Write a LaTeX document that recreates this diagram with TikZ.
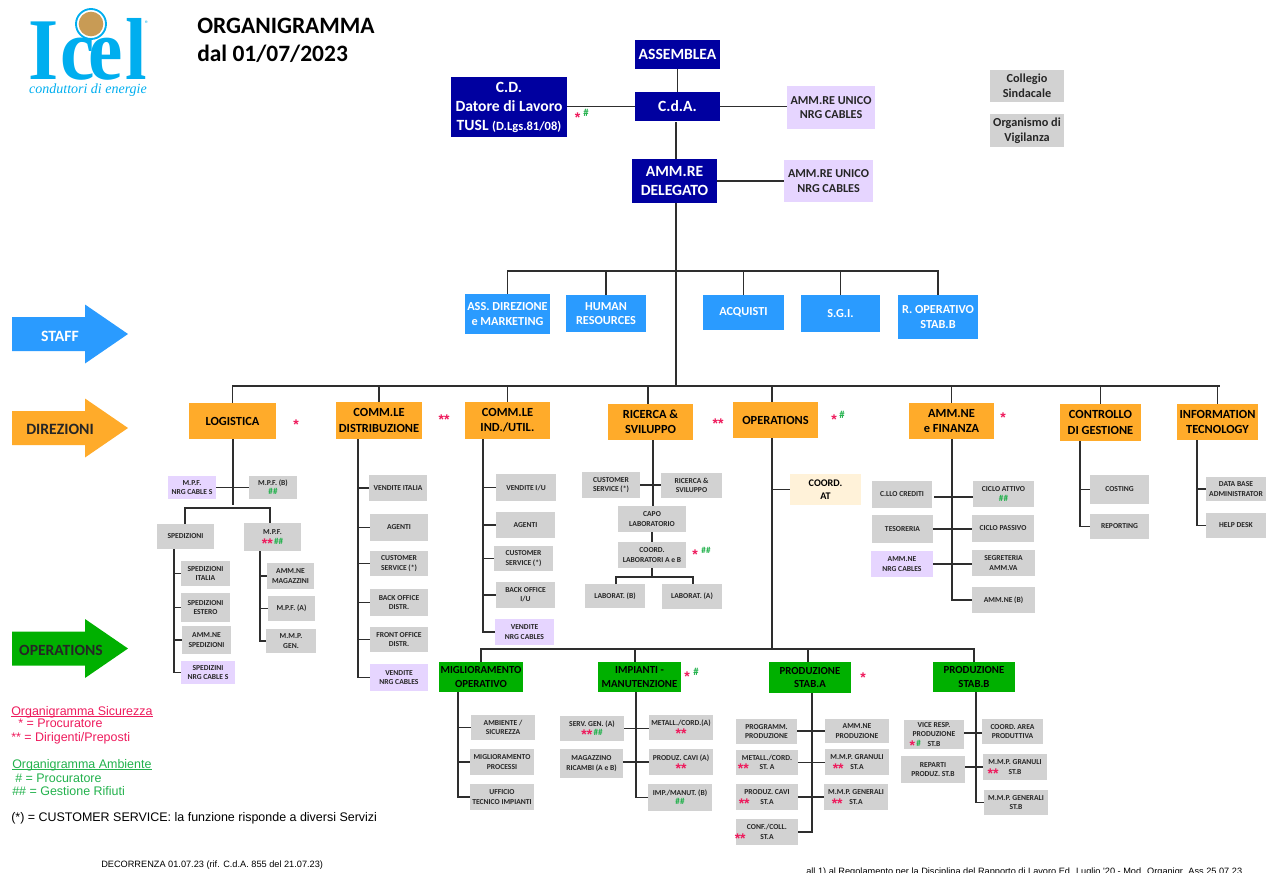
\documentclass[tikz,border=0pt]{standalone}
\usepackage{fontspec}
\setmainfont{Carlito}
\newfontfamily\arialf{Liberation Sans}
\newfontfamily\timesf{Liberation Serif}
\definecolor{navyc}{HTML}{0000A0}
\definecolor{staffc}{HTML}{2A9BFF}
\definecolor{purplec}{HTML}{E6D5FF}
\definecolor{grayc}{HTML}{D2D2D2}
\definecolor{orangec}{HTML}{FFAB2A}
\definecolor{greenc}{HTML}{00B000}
\definecolor{creamc}{HTML}{FFF2D9}
\definecolor{linec}{HTML}{2E2E2E}
\definecolor{redc}{HTML}{EE1A5C}
\definecolor{grnc}{HTML}{22B14C}
\definecolor{logoc}{HTML}{00AEEF}
\definecolor{brownc}{HTML}{C89B55}
\newcommand{\pxfont}[2]{\fontsize{#1}{#2}\selectfont}
\newcommand{\rs}[1]{\smash{\textcolor{redc}{\raisebox{-3pt}{\arialf\bfseries\pxfont{10.5}{7}#1}}}}
\newcommand{\gs}[1]{\smash{\textcolor{grnc}{\bfseries\pxfont{6.8}{7}#1}}}
\tikzset{
 x=0.75pt,y=-0.75pt,
 basebox/.style={inner sep=0pt,outer sep=0pt,align=center},
 navybox/.style={basebox,fill=navyc,text=white,font=\bfseries\pxfont{11.7}{14.25}},
 staffbox/.style={basebox,fill=staffc,text=white,font=\bfseries\pxfont{9.2}{11}},
 dirbox/.style={basebox,fill=orangec,text=black,font=\bfseries\pxfont{9.3}{11.3}},
 opbox/.style={basebox,fill=greenc,text=black,font=\bfseries\pxfont{8.1}{10}},
 graybox/.style={basebox,fill=grayc,text=black!85,font=\bfseries\pxfont{5.7}{7}},
 purplebox/.style={basebox,fill=purplec,text=black!85,font=\bfseries\pxfont{5.7}{7}},
 creambox/.style={basebox,fill=creamc,text=black,font=\bfseries\pxfont{7.6}{10}},
 bigpurple/.style={purplebox,font=\bfseries\pxfont{9.1}{10.8}},
 biggray/.style={graybox,font=\bfseries\pxfont{9.2}{11}},
 conn/.style={draw=linec,line width=0.9pt},
 mark1/.style={inner sep=0pt,font=\arialf\bfseries\pxfont{10.5}{9},text=redc},
 mark2/.style={inner sep=0pt,font=\bfseries\pxfont{8}{8},text=grnc},
 legend/.style={inner sep=0pt,anchor=base west,font=\arialf\pxfont{9.35}{10}},
 smalllegend/.style={legend,font=\arialf\pxfont{6.9}{8}},
 logoletter/.style={inner sep=0pt,text=logoc,font=\timesf\bfseries\pxfont{66}{66},anchor=base west,xscale=0.88},
 titletext/.style={inner sep=0pt,anchor=base west,font=\bfseries\pxfont{17.6}{20}},
}
\newcommand{\bx}[7]{\node[#2,minimum width={(#5-#3)*0.75pt},minimum height={(#6-#4)*0.75pt}] (#1) at ({(#3+#5)/2},{(#4+#6)/2}) {#7};}
\newcommand{\bigarr}[2]{\fill[#1] (12,#2-17) -- (85,#2-17) -- (85,#2-29.5) -- (128,#2) -- (85,#2+29.5) -- (85,#2+17) -- (12,#2+17) -- cycle;}
\begin{document}
\begin{tikzpicture}
\clip (0,0) rectangle (1271,872);
% logo
\node[logoletter] (lI) at (28,79) {I};
\node[logoletter] (lc) at (60,79) {c};
\node[logoletter] (le) at (88,79) {e};
\node[logoletter] (ll) at (125,79) {l};
\node[circle,draw=logoc,fill=white,line width=1.4pt,minimum size=22.5pt,inner sep=0pt] (lball) at (91,24) {};
\node[circle,fill=brownc,minimum size=18.5pt,inner sep=0pt] (lcore) at (91,24) {};
\node[inner sep=0pt,text=logoc,font=\pxfont{6}{6}] (lreg) at (147,24) {®};
\node[inner sep=0pt,text=logoc,font=\timesf\itshape\pxfont{10.5}{12}] (lsub) at (88,90) {conduttori di energie};
% title
\node[titletext] (t1) at (197,33.3) {ORGANIGRAMMA};
\node[titletext] (t2) at (197,61.7) {dal 01/07/2023};
% big arrows
\bigarr{staffc}{334}
\bigarr{orangec}{428}
\bigarr{greenc}{648.5}
\node[text=white,inner sep=0pt,font=\bfseries\pxfont{11.8}{10}] (aSt) at (60,336) {STAFF};
\node[text=black!85,inner sep=0pt,font=\bfseries\pxfont{11.8}{10}] (aDt) at (60,429.5) {DIREZIONI};
\node[text=black!85,inner sep=0pt,font=\bfseries\pxfont{11.7}{10}] (aOt) at (61,650) {OPERATIONS};
% top
\bx{ass}{navybox}{635}{40}{720}{69}{ASSEMBLEA}
\bx{cd}{navybox}{451}{77}{567}{137}{C.D.\\Datore di Lavoro\\TUSL {\pxfont{9.4}{14}(D.Lgs.81/08)}}
\bx{cda}{navybox}{635}{92}{720}{121}{C.d.A.}
\bx{un1}{bigpurple}{787}{86}{875}{129}{AMM.RE UNICO\\NRG CABLES}
\bx{del}{navybox}{632}{159}{717}{203}{AMM.RE\\DELEGATO}
\bx{un2}{bigpurple}{784}{160}{873}{202}{AMM.RE UNICO\\NRG CABLES}
\bx{col}{biggray}{990}{70}{1064}{102}{Collegio\\Sindacale}
\bx{org}{biggray}{990}{114}{1064}{147}{Organismo di\\Vigilanza}
\draw[conn] (ass) -- (cda);
\draw[conn] (cd.east|-cda) -- (cda.west);
\draw[conn] (cda.east) -- (cda.east-|un1.west);
\coordinate (cdaB) at (676,122);
\draw[conn] (cdaB) -- (cdaB|-del.north);
\draw[conn] (del.east) -- (del.east-|un2.west);
% staff
\bx{s1}{staffbox}{465}{294}{550}{334}{ASS. DIREZIONE\\e MARKETING}
\bx{s2}{staffbox}{566}{295}{646}{332}{HUMAN\\RESOURCES}
\bx{s3}{staffbox}{703}{295}{784}{330}{ACQUISTI}
\bx{s4}{staffbox}{801}{295}{880}{332}{S.G.I.}
\bx{s5}{staffbox}{898}{295}{978}{339}{R. OPERATIVO\\STAB.B}
\coordinate (mT) at (676,203);
\coordinate (mB) at (676,386);
\coordinate (sb) at (676,271);
\draw[conn] (mT) -- (mB);
\foreach \n in {s1,s2,s3,s4,s5} \draw[conn] (sb) -| (\n.north);
% direzioni
\bx{d1}{dirbox}{189}{403}{276}{439}{LOGISTICA}
\bx{d2}{dirbox}{336}{402}{422}{439}{COMM.LE\\DISTRIBUZIONE}
\bx{d3}{dirbox}{465}{402}{550}{439}{COMM.LE\\IND./UTIL.}
\bx{d4}{dirbox}{608}{404}{693}{440}{RICERCA \&\\SVILUPPO}
\bx{d5}{dirbox}{733}{402}{818}{438}{OPERATIONS}
\bx{d6}{dirbox}{909}{403}{994}{439}{AMM.NE\\e FINANZA}
\bx{d7}{dirbox}{1060}{404}{1141}{441}{CONTROLLO\\DI GESTIONE}
\bx{d8}{dirbox}{1177}{404}{1258}{440}{INFORMATION\\TECNOLOGY}
\coordinate (d4t) at (648,404);
\coordinate (d5t) at (772,402);
\coordinate (bEnd) at (1220,386);
\draw[conn] (mB) -- (bEnd);
\foreach \n in {d1.north,d2.north,d3.north,d4t,d5t,d6.north,d7.north,d8.north} \draw[conn] (mB) -| (\n);
% logistica
\bx{lp}{purplebox}{168}{476}{216}{499}{M.P.F.\\NRG CABLE S}
\bx{lb}{graybox}{249}{476}{297}{499}{M.P.F. (B)\\\gs{\#\#}}
\bx{lsp}{graybox}{157}{524}{214}{549}{SPEDIZIONI}
\bx{lm}{graybox}{244}{523}{301}{551}{M.P.F.\\\rs{**}\,\gs{\#\#}}
\bx{ls1}{graybox}{181}{561}{230}{586}{SPEDIZIONI\\ITALIA}
\bx{ls2}{graybox}{181}{593}{230}{622}{SPEDIZIONI\\ESTERO}
\bx{ls3}{graybox}{182}{626}{231}{654}{AMM.NE\\SPEDIZIONI}
\bx{ls4}{purplebox}{181}{661}{235}{684}{SPEDIZINI\\NRG CABLE S}
\bx{lm1}{graybox}{267}{563}{314}{589}{AMM.NE\\MAGAZZINI}
\bx{lm2}{graybox}{268}{596}{315}{621}{M.P.F. (A)}
\bx{lm3}{graybox}{266}{629}{316}{653}{M.M.P.\\GEN.}
\coordinate (lT) at (233,439);
\coordinate (lB) at (233,505);
\coordinate (lBus) at (233,508);
\coordinate (lspT) at (185,524);
\coordinate (lmT) at (270,523);
\draw[conn] (lT) -- (lB);
\draw[conn] (lp.east) -- (lb.west);
\draw[conn] (lspT) |- (lBus) -| (lmT);
\coordinate (lspB) at (174,549);
\foreach \n in {ls1,ls2,ls3,ls4} \draw[conn] (lspB) |- (\n.west);
\coordinate (lmB) at (260,551);
\foreach \n in {lm1,lm2,lm3} \draw[conn] (lmB) |- (\n.west);
% distribuzione
\bx{a1}{graybox}{369}{475}{427}{501}{VENDITE ITALIA}
\bx{a2}{graybox}{370}{514}{428}{541}{AGENTI}
\bx{a3}{graybox}{370}{551}{428}{576}{CUSTOMER\\SERVICE (*)}
\bx{a4}{graybox}{370}{589}{428}{616}{BACK OFFICE\\DISTR.}
\bx{a5}{graybox}{370}{627}{428}{652}{FRONT OFFICE\\DISTR.}
\bx{a6}{purplebox}{370}{664}{428}{691}{VENDITE\\NRG CABLES}
\coordinate (aT) at (358,439);
\foreach \n in {a1,a2,a3,a4,a5,a6} \draw[conn] (aT) |- (\n.west);
% industria
\bx{b1}{graybox}{496}{474}{556}{501}{VENDITE I/U}
\bx{b2}{graybox}{496}{512}{555}{538}{AGENTI}
\bx{b3}{graybox}{494}{546}{553}{571}{CUSTOMER\\SERVICE (*)}
\bx{b4}{graybox}{496}{582}{555}{608}{BACK OFFICE\\I/U}
\bx{b5}{purplebox}{495}{619}{554}{645}{VENDITE\\NRG CABLES}
\coordinate (bT) at (483,439);
\foreach \n in {b1,b2,b3,b4,b5} \draw[conn] (bT) |- (\n.west);
% ricerca
\bx{c1}{graybox}{582}{472}{640}{498}{CUSTOMER\\SERVICE (*)}
\bx{c2}{graybox}{661}{473}{722}{498}{RICERCA \&\\SVILUPPO}
\bx{c3}{graybox}{618}{506}{686}{532}{CAPO\\LABORATORIO}
\bx{c4}{graybox}{618}{542}{686}{568}{COORD.\\LABORATORI A e B}
\bx{c5}{graybox}{585}{584}{645}{608}{LABORAT. (B)}
\bx{c6}{graybox}{662}{584}{722}{609}{LABORAT. (A)}
\coordinate (cT) at (653,440);
\coordinate (cB) at (653,506);
\coordinate (c3b) at (652,532);
\coordinate (c4t) at (652,542);
\coordinate (c4b) at (652,568);
\coordinate (cBus) at (652,577);
\coordinate (c5t) at (616,584);
\coordinate (c6t) at (693,584);
\draw[conn] (cT) -- (cB);
\draw[conn] (c1.east) -- (c1.east-|c2.west);
\draw[conn] (c3b) -- (c4t);
\draw[conn] (c4b) -- (cBus);
\draw[conn] (c5t) |- (cBus) -| (c6t);
% operations
\bx{o1}{creambox}{790}{474}{861}{505}{COORD.\\AT}
\coordinate (oT) at (772,438);
\coordinate (oB) at (772,649);
\draw[conn] (oT) -- (oB);
\draw[conn] (oT) |- (o1.west);
% amm
\bx{e1}{graybox}{872}{481}{932}{508}{C.LLO CREDITI}
\bx{e2}{graybox}{872}{515}{933}{543}{TESORERIA}
\bx{e3}{purplebox}{871}{551}{933}{577}{AMM.NE\\NRG CABLES}
\bx{e4}{graybox}{973}{481}{1034}{507}{CICLO ATTIVO\\\gs{\#\#}}
\bx{e5}{graybox}{972}{515}{1034}{542}{CICLO PASSIVO}
\bx{e6}{graybox}{972}{550}{1035}{576}{SEGRETERIA\\AMM.VA}
\bx{e7}{graybox}{972}{587}{1035}{613}{AMM.NE (B)}
\coordinate (eT) at (952,439);
\coordinate (e1r) at (934,497);
\draw[conn] (eT) |- (e7.west);
\draw[conn] (e1r) -- (e1r-|e4.west);
\draw[conn] (e2.east) -- (e2.east-|e5.west);
\draw[conn] (e3.east) -- (e3.east-|e6.west);
% controllo
\bx{f1}{graybox}{1090}{475}{1149}{504}{COSTING}
\bx{f2}{graybox}{1090}{514}{1149}{539}{REPORTING}
\coordinate (fT) at (1080,441);
\foreach \n in {f1,f2} \draw[conn] (fT) |- (\n.west);
% IT
\bx{g1}{graybox}{1206}{477}{1266}{501}{DATA BASE\\ADMINISTRATOR}
\bx{g2}{graybox}{1206}{513}{1266}{538}{HELP DESK}
\coordinate (gT) at (1197,440);
\foreach \n in {g1,g2} \draw[conn] (gT) |- (\n.west);
% lower heads
\bx{h1}{opbox}{439}{662}{523}{692}{MIGLIORAMENTO\\OPERATIVO}
\bx{h2}{opbox}{598}{662}{681}{692}{IMPIANTI -\\MANUTENZIONE}
\bx{h3}{opbox}{769}{662}{851}{693}{PRODUZIONE\\STAB.A}
\bx{h4}{opbox}{933}{662}{1015}{692}{PRODUZIONE\\STAB.B}
\coordinate (h2t) at (635,662);
\coordinate (h3t) at (808,662);
\foreach \n in {h1.north,h2t,h3t,h4.north} \draw[conn] (oB) -| (\n);
% miglioramento
\bx{i1}{graybox}{471}{715}{535}{740}{AMBIENTE /\\SICUREZZA}
\bx{i2}{graybox}{470}{749}{534}{775}{MIGLIORAMENTO\\PROCESSI}
\bx{i3}{graybox}{470}{784}{534}{810}{UFFICIO\\TECNICO IMPIANTI}
\coordinate (iT) at (458,692);
\foreach \n in {i1,i2,i3} \draw[conn] (iT) |- (\n.west);
% impianti
\bx{j1}{graybox}{560}{716}{624}{741}{SERV. GEN. (A)\\\rs{**}\,\gs{\#\#}}
\bx{j2}{graybox}{560}{749}{623}{778}{MAGAZZINO\\RICAMBI (A e B)}
\bx{j3}{graybox}{649}{715}{713}{740}{METALL./CORD.(A)\\\rs{**}}
\bx{j4}{graybox}{649}{749}{713}{775}{PRODUZ. CAVI (A)\\\rs{**}}
\bx{j5}{graybox}{648}{784}{712}{811}{IMP./MANUT. (B)\\\gs{\#\#}}
\coordinate (jT) at (636,692);
\draw[conn] (jT) |- (j5.west);
\draw[conn] (j1.east) -- (j1.east-|j3.west);
\draw[conn] (j2.east|-j4) -- (j4.west);
% prod A
\bx{k1}{graybox}{736}{719}{797}{744}{PROGRAMM.\\PRODUZIONE}
\bx{k2}{graybox}{736}{750}{798}{775}{METALL./CORD.\\\llap{\rs{**}\hspace{8pt}}ST. A}
\bx{k3}{graybox}{736}{784}{798}{810}{PRODUZ. CAVI\\\llap{\rs{**}\hspace{8pt}}ST.A}
\bx{k4}{graybox}{736}{819}{798}{845}{CONF./COLL.\\\llap{\rs{**}\hspace{11pt}}ST.A}
\bx{k5}{graybox}{825}{719}{889}{743}{AMM.NE\\PRODUZIONE}
\bx{k6}{graybox}{825}{749}{889}{775}{M.M.P. GRANULI\\\llap{\rs{**}\hspace{5pt}}ST.A}
\bx{k7}{graybox}{824}{784}{888}{810}{M.M.P. GENERALI\\\llap{\rs{**}\hspace{5pt}}ST.A}
\coordinate (kT) at (812,693);
\coordinate (k1r) at (797,731);
\draw[conn] (kT) |- (k4.east);
\draw[conn] (k1r) -- (k1r-|k5.west);
\draw[conn] (k2.east) -- (k2.east-|k6.west);
\draw[conn] (k3.east) -- (k3.east-|k7.west);
% prod B
\bx{m1}{graybox}{904}{720}{964}{749}{VICE RESP.\\PRODUZIONE\\\llap{\rs{*}\,\gs{\#}\hspace{5pt}}ST.B}
\bx{m2}{graybox}{901}{756}{965}{783}{REPARTI\\PRODUZ. ST.B}
\bx{m3}{graybox}{982}{719}{1043}{744}{COORD. AREA\\PRODUTTIVA}
\bx{m4}{graybox}{983}{754}{1047}{780}{M.M.P. GRANULI\\\llap{\rs{**}\hspace{7.5pt}}ST.B}
\bx{m5}{graybox}{984}{790}{1048}{815}{M.M.P. GENERALI\\ST.B}
\coordinate (mT2) at (976,692);
\draw[conn] (mT2) |- (m5.west);
\coordinate (m1e) at (964,733);
\draw[conn] (m1e) -- (m1e-|m3.west);
\coordinate (m2e) at (965,767);
\draw[conn] (m2e) -- (m2e-|m4.west);
% marks
\node[mark1] (q1) at (577.5,118) {*};
\node[mark2] (q2) at (586,113) {\#};
\node[mark1] (q3) at (296,425) {*};
\node[mark1] (q4) at (444,420) {**};
\node[mark1] (q5) at (718,424) {**};
\node[mark1] (q6) at (834,420) {*};
\node[mark2] (q7) at (842,415) {\#};
\node[mark1] (q8) at (1003,418) {*};
\node[mark1] (q9) at (695,555) {*};
\node[mark2,font=\bfseries\pxfont{6.8}{8}] (q10) at (706,550) {\#\#};
\node[mark1] (q11) at (687,677) {*};
\node[mark2] (q12) at (696,672) {\#};
\node[mark1] (q13) at (863,678) {*};
% legend
\node[legend,text=redc] (n1) at (11,715) {Organigramma Sicurezza};
\draw[redc,line width=0.5pt] ([yshift=-1.3pt]n1.base west) -- ([yshift=-1.3pt]n1.base east);
\node[legend,text=redc] (n2) at (18,727.7) {* = Procuratore};
\node[legend,text=redc] (n3) at (11,741.7) {** = Dirigenti/Preposti};
\node[legend,text=grnc] (n4) at (12,768) {Organigramma Ambiente};
\draw[grnc,line width=0.5pt] ([yshift=-1.3pt]n4.base west) -- ([yshift=-1.3pt]n4.base east);
\node[legend,text=grnc] (n5) at (15,782.7) {\# = Procuratore};
\node[legend,text=grnc] (n6) at (12,795.7) {\#\# = Gestione Rifiuti};
\node[legend] (n7) at (11,821) {(*) = CUSTOMER SERVICE: la funzione risponde a diversi Servizi};
\node[smalllegend] (n8) at (101,867) {DECORRENZA 01.07.23 (rif. C.d.A. 855 del 21.07.23)};
\node[smalllegend] (n9) at (806,874) {all 1) al Regolamento per la Disciplina del Rapporto di Lavoro Ed. Luglio '20 - Mod. Organigr. Ass 25.07.23};
\end{tikzpicture}
\end{document}
